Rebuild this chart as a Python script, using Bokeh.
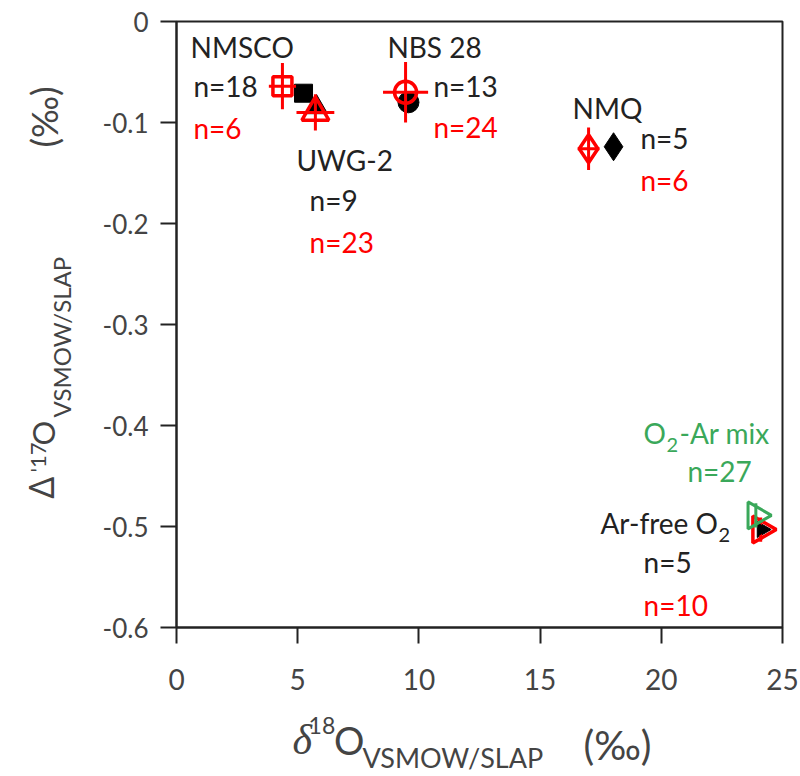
import math
from bokeh.plotting import figure
from bokeh.models import Range1d, Label, FixedTicker
from bokeh.layouts import row, column
from bokeh.embed import file_html
from bokeh.resources import INLINE

# ---- data ----
samples = ["NMSCO", "UWG-2", "NBS 28", "NMQ", "Ar-free O2"]
black_markers = ["square", "triangle", "circle", "diamond", "triangle"]
red_markers = ["square", "triangle", "circle", "diamond", "triangle"]
d18O_black = [5.24, 5.78, 9.57, 18.03, 24.15]
D17O_black = [-0.071, -0.085, -0.080, -0.124, -0.503]
d18O_red = [4.37, 5.73, 9.45, 17.0, 24.1]
D17O_red = [-0.064, -0.090, -0.070, -0.126, -0.503]
d18O_red_err = [0.56, 0.78, 0.93, 0.45, 0.10]
D17O_red_err = [0.023, 0.018, 0.030, 0.021, 0.012]
mix_d18O = [23.9]
mix_D17O = [-0.489]
mix_D17O_err = [0.012]
n_black = [18, 9, 13, 5, 5]
n_red = [6, 23, 24, 6, 10]
n_mix = 27
x_ticks = [0, 5, 10, 15, 20, 25]
y_ticks = [0, -0.1, -0.2, -0.3, -0.4, -0.5, -0.6]

RED = "#ff0000"
GREEN = "#3aa85a"
BLACK = "#222222"
GREY = "#444444"
FONT = "Lato"

LEFT_W = 90
MAIN_H = 704

p = figure(width=800 - LEFT_W, height=MAIN_H, output_backend="svg",
           toolbar_location=None,
           x_range=Range1d(0, 25), y_range=Range1d(-0.6, 0),
           min_border_left=176 - LEFT_W, min_border_right=18,
           min_border_top=21, min_border_bottom=MAIN_H - 627)
p.grid.visible = False
p.outline_line_color = "#222222"
p.outline_line_width = 2

for ax, ticks in ((p.xaxis, x_ticks), (p.yaxis, y_ticks)):
    ax.ticker = FixedTicker(ticks=ticks)
    ax.axis_line_color = "#222222"
    ax.axis_line_width = 2
    ax.major_tick_line_color = "#222222"
    ax.major_tick_line_width = 2
    ax.major_tick_in = 0
    ax.major_tick_out = 16
    ax.minor_tick_line_color = None
    ax.major_label_text_font = FONT
    ax.major_label_text_color = GREY
p.yaxis.major_label_text_font_size = "26px"
p.yaxis.major_label_standoff = 12
p.xaxis.major_label_text_font_size = "28px"
p.xaxis.major_label_standoff = 25
p.xaxis.major_label_overrides = {t: str(t) for t in x_ticks}
p.yaxis.major_label_overrides = {t: ("0" if t == 0 else f"{t:.1f}") for t in y_ticks}

# black (reference) markers
sizes_black = [18, 22, 21, 28, 16]
for i in range(len(samples)):
    ang = -math.pi / 2 if i == 4 else 0
    p.scatter([d18O_black[i]], [D17O_black[i]], marker=black_markers[i],
              size=sizes_black[i], fill_color="black", line_color="black",
              angle=ang)

# red error bars
for i in range(len(samples)):
    x, y = d18O_red[i], D17O_red[i]
    p.segment([x - d18O_red_err[i]], [y], [x + d18O_red_err[i]], [y],
              line_color=RED, line_width=3)
    p.segment([x], [y - D17O_red_err[i]], [x], [y + D17O_red_err[i]],
              line_color=RED, line_width=3)

# red markers (open)
sizes_red = [19, 27, 22, 28, 27]
for i in range(len(samples)):
    ang = -math.pi / 2 if i == 4 else 0
    p.scatter([d18O_red[i]], [D17O_red[i]], marker=red_markers[i],
              size=sizes_red[i], fill_color=None, line_color=RED,
              line_width=3.5, angle=ang)
p.scatter([d18O_black[4]], [D17O_black[4]], marker="triangle", size=12,
          fill_color="black", line_color="black", angle=-math.pi / 2)

# green O2-Ar mix
p.segment([mix_d18O[0]], [mix_D17O[0] - mix_D17O_err[0]], [mix_d18O[0]],
          [mix_D17O[0] + mix_D17O_err[0]], line_color=GREEN, line_width=3)
p.scatter(mix_d18O, mix_D17O, marker="triangle", size=27, fill_color=None,
          line_color=GREEN, line_width=3, angle=-math.pi / 2)


def lab(fig, x, y, text, color=BLACK, size=28, font=FONT, angle=0,
        style="normal"):
    bias = round(0.36 * size)
    if angle:
        xo, yo = -bias, 0
    else:
        xo, yo = 0, bias
    fig.add_layout(Label(x=x, y=y, text=text, text_color=color,
                         text_font=font, text_font_size=f"{size}px",
                         angle=angle, x_offset=xo, y_offset=yo,
                         text_align="left", text_baseline="alphabetic",
                         text_font_style=style))


# annotations in the plot
lab(p, 0.58, -0.0356, samples[0])
lab(p, 0.70, -0.0733, f"n={n_black[0]}")
lab(p, 0.70, -0.1158, f"n={n_red[0]}", RED)
lab(p, 8.70, -0.0347, samples[2])
lab(p, 10.60, -0.0733, f"n={n_black[2]}")
lab(p, 10.60, -0.1139, f"n={n_red[2]}", RED)
lab(p, 4.95, -0.1475, samples[1])
lab(p, 5.49, -0.1871, f"n={n_black[1]}")
lab(p, 5.49, -0.2287, f"n={n_red[1]}", RED)
lab(p, 16.34, -0.0960, samples[3])
lab(p, 19.14, -0.1248, f"n={n_black[3]}")
lab(p, 19.14, -0.1673, f"n={n_red[3]}", RED)
lab(p, 19.27, -0.4178, "O", GREEN)
lab(p, 20.21, -0.4267, "2", GREEN, size=20)
lab(p, 20.75, -0.4178, "-Ar mix", GREEN)
lab(p, 21.08, -0.4554, f"n={n_mix}", GREEN)
lab(p, 17.49, -0.5069, "Ar-free O")
lab(p, 22.36, -0.5158, "2", size=20)
lab(p, 19.27, -0.5455, f"n={n_black[4]}")
lab(p, 19.27, -0.5881, f"n={n_red[4]}", RED)


def text_panel(w, h, xr, yr):
    f = figure(width=w, height=h, output_backend="svg", toolbar_location=None,
               x_range=Range1d(*xr), y_range=Range1d(*yr),
               x_axis_location=None, y_axis_location=None,
               min_border=0)
    f.grid.visible = False
    f.outline_line_color = None
    return f


# x-axis title panel: frame aligned with the main frame (same x scale);
# y in page pixels (negative downward)
bot = text_panel(800 - LEFT_W, 776 - MAIN_H, (0, 25), (-776, -MAIN_H))
lab(bot, 4.79, -754, "\u03b4", GREY, size=42, font="Liberation Serif",
    style="italic")
lab(bot, 5.45, -733, "18", GREY, size=23)
lab(bot, 6.50, -753, "O", GREY, size=38)
lab(bot, 7.67, -767, "VSMOW/SLAP", GREY, size=27)
lab(bot, 16.79, -758, "(\u2030)", GREY, size=40)

# y-axis title panel (rotated), page pixel coordinates
left = text_panel(LEFT_W, 776, (0, LEFT_W), (-776, 0))
A = math.pi / 2
lab(left, 52, -498, "\u0394", GREY, size=34, font="Noto Sans", angle=A)
lab(left, 45, -472, "'17", GREY, size=22, angle=A)
lab(left, 53, -445, "O", GREY, size=31, angle=A)
lab(left, 70, -417, "VSMOW/SLAP", GREY, size=24, angle=A)
lab(left, 56, -147, "(\u2030)", GREY, size=36, angle=A)

layout = row(left, column(p, bot))
open("out.html", "w").write(file_html(layout, INLINE))
